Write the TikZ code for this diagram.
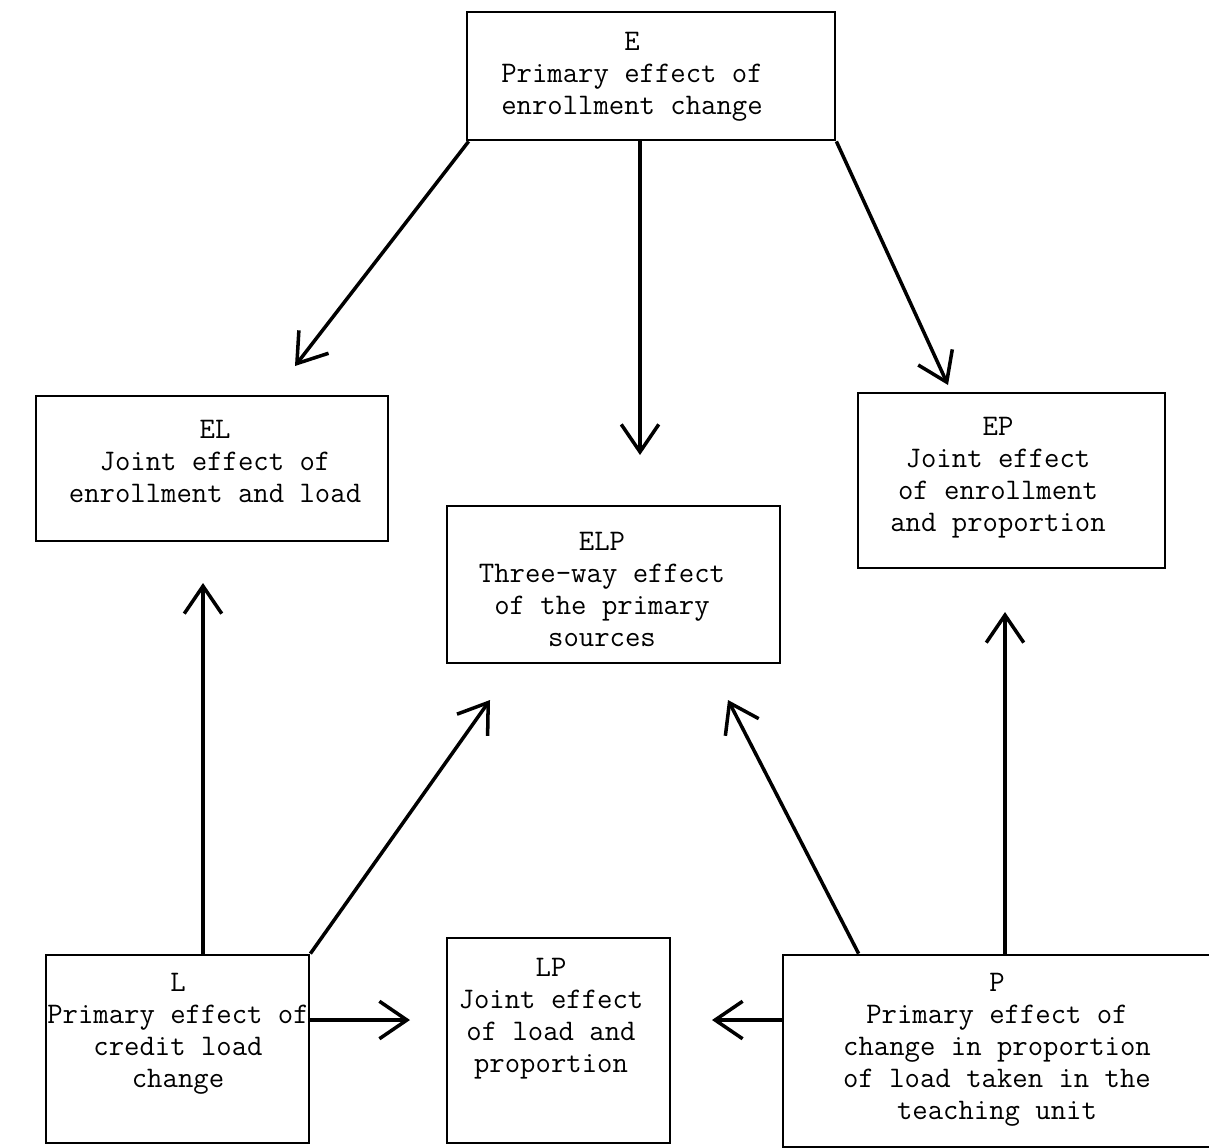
\documentclass[tikz,border=0pt]{standalone}
\usetikzlibrary{arrows.meta}
\newcommand{\mkbox}[4]{\node[effbox, minimum width=#3cm, minimum height=#4cm] (#1) at (#2) {} ;}
\tikzset{
    effbox/.style={
        draw,
        rectangle,
        line width=1.6pt,
        inner sep=0,
    },
    efftext/.style={
        align=center,
        inner sep=0,
        font=\ttfamily\fontsize{17}{18.2}\selectfont,
    },
    effarrow/.style={
        line width=2pt,
        -{Straight Barb[length=0.55cm,width=0.75cm,line width=2pt]},
    },
}
\begin{document}
\begin{tikzpicture}[x=0.02cm, y=-0.02cm]
            \useasboundingbox (0,0) rectangle (1209,1147) ;

            \mkbox{E}{651,76}{7.36}{2.56}
            \mkbox{EL}{212,468.5}{7.04}{2.90}
            \mkbox{ELP}{613.5,584.5}{6.66}{3.14}
            \mkbox{EP}{1011.5,480.5}{6.14}{3.50}
            \mkbox{L}{177.5,1049}{5.26}{3.76}
            \mkbox{LP}{558.5,1040.5}{4.46}{4.10}
            \mkbox{P}{999,1051}{8.64}{3.84}

            \node[efftext] (E-text) at (632,77) {E\\Primary effect of\\enrollment change} ;
            \node[efftext] (EL-text) at (215,461) {EL\\Joint effect of\\enrollment and load} ;
            \node[efftext] (ELP-text) at (602,589) {ELP\\Three-way effect\\of the primary\\sources} ;
            \node[efftext] (EP-text) at (998,478) {EP\\Joint effect\\of enrollment\\and proportion} ;
            \node[efftext] (L-text) at (178,1034) {L\\Primary effect of\\credit load\\change} ;
            \node[efftext] (LP-text) at (551,1019) {LP\\Joint effect\\of load and\\proportion} ;
            \node[efftext] (P-text) at (997,1050) {P\\Primary effect of\\change in proportion\\of load taken in the\\teaching unit} ;

            \coordinate (E-EL) at (295,366) ;
            \coordinate (E-ELP) at (640,455) ;
            \coordinate (E-EP) at (948,385) ;
            \coordinate (L-EL) at (203,583) ;
            \coordinate (L-ELP) at (490,700) ;
            \coordinate (L-LP) at (410,1020) ;
            \coordinate (P-LP) at (712,1020) ;
            \coordinate (P-ELP) at (728,700) ;
            \coordinate (P-EP) at (1005,612) ;

            \draw[effarrow] ([xshift=0.06cm]E.south west) -- (E-EL) ;
            \draw[effarrow] (E.south -| E-ELP) -- (E-ELP) ;
            \draw[effarrow] (E.south east) -- (E-EP) ;
            \draw[effarrow] (L.north -| L-EL) -- (L-EL) ;
            \draw[effarrow] (L.north east) -- (L-ELP) ;
            \draw[effarrow] (L.east |- L-LP) -- (L-LP) ;
            \draw[effarrow] (P.west |- P-LP) -- (P-LP) ;
            \draw[effarrow] ([xshift=1.54cm]P.north west) -- (P-ELP) ;
            \draw[effarrow] (P.north -| P-EP) -- (P-EP) ;
        \end{tikzpicture}
\end{document}
